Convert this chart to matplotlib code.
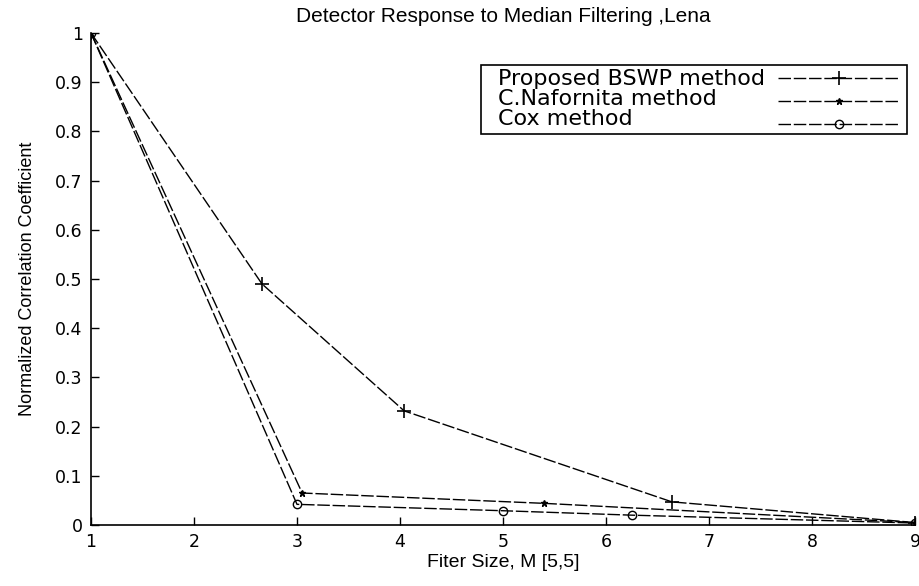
import matplotlib
matplotlib.use("Agg")
import matplotlib.pyplot as plt
from matplotlib.lines import Line2D

# data
bswp_x = [1, 2.66, 4.04, 6.64, 9]
bswp_y = [1.0, 0.49, 0.232, 0.047, 0.005]

naf_x = [1, 3.05, 5.4, 9]
naf_y = [1.0, 0.065, 0.044, 0.005]

cox_x = [1, 3.0, 5.0, 6.25, 9]
cox_y = [1.0, 0.042, 0.029, 0.02, 0.004]

labels = ["Proposed BSWP method", "C.Nafornita method", "Cox method"]
xticks = [1, 2, 3, 4, 5, 6, 7, 8, 9]
yticks = [0, 0.1, 0.2, 0.3, 0.4, 0.5, 0.6, 0.7, 0.8, 0.9, 1]
ytick_labels = ["0", "0.1", "0.2", "0.3", "0.4", "0.5", "0.6", "0.7", "0.8", "0.9", "1"]

thin = ["Liberation Sans", "DejaVu Sans"]

fig = plt.figure(figsize=(9.2, 5.86), dpi=100)
ax = fig.add_axes([91 / 920, 1 - 525 / 586, 824 / 920, 492 / 586])

dash = (9, 2)
l1, = ax.plot(bswp_x, bswp_y, color="black", lw=1.0, dashes=dash, marker="+", ms=10, mew=1.2)
l2, = ax.plot(naf_x, naf_y, color="black", lw=1.0, dashes=dash, marker="*", ms=5)
l3, = ax.plot(cox_x, cox_y, color="black", lw=1.0, dashes=dash, marker="o", ms=6,
              mfc="none", mew=1.0)

ax.set_xlim(1, 9)
ax.set_ylim(0, 1)
ax.set_xticks(xticks)
ax.set_yticks(yticks)
ax.set_yticklabels(ytick_labels)
ax.tick_params(direction="in", length=6, width=1, labelsize=12.5, pad=6)
for s in ["top", "right"]:
    ax.spines[s].set_visible(False)
for s in ["left", "bottom"]:
    ax.spines[s].set_linewidth(1.2)

ax.set_title("Detector Response to Median Filtering ,Lena", family=thin,
             fontsize=15, pad=8)
ax.set_xlabel("Fiter Size, M [5,5]", family=thin, fontsize=14, labelpad=2)
ax.set_ylabel("Normalized Correlation Coefficient", family=thin, fontsize=13,
              labelpad=14)

# legend: framed box with left aligned labels, line samples on the right
box = (481 / 920, 1 - 138 / 586, 426 / 920, 73 / 586)
blank = [Line2D([], [], linestyle="none") for _ in labels]
leg_text = ax.legend(blank, labels, loc="upper left", bbox_to_anchor=box,
                     bbox_transform=fig.transFigure, mode="expand", handlelength=0,
                     handletextpad=0.55, fancybox=False, edgecolor="black",
                     framealpha=1, fontsize=16, borderpad=0.2, labelspacing=0.0,
                     borderaxespad=0)
leg_text.get_frame().set_linewidth(1.2)
ax.add_artist(leg_text)

leg_lines = ax.legend([l1, l2, l3], ["", "", ""], loc="upper right",
                      bbox_to_anchor=(900 / 920, 1 - 70 / 586),
                      bbox_transform=fig.transFigure, frameon=False,
                      handlelength=5.5, handletextpad=0, fontsize=16,
                      labelspacing=0.12, borderpad=0, borderaxespad=0)

fig.savefig("out.png", dpi=100)
